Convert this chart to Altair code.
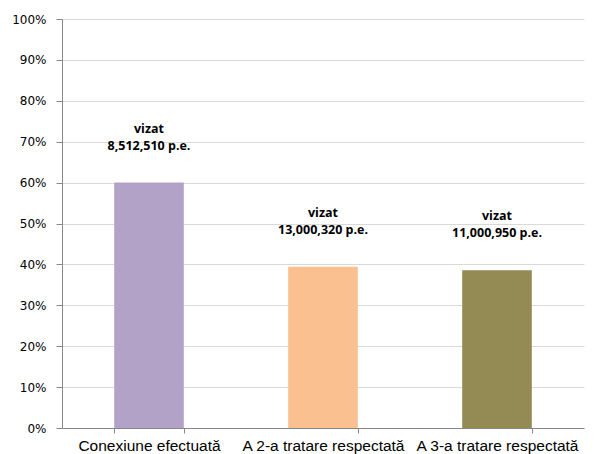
import altair as alt
import pandas as pd

categories = ["Conexiune efectuată", "A 2-a tratare respectată", "A 3-a tratare respectată"]
values = [0.60, 0.394, 0.386]
labels = ["vizat\n8,512,510 p.e.", "vizat\n13,000,320 p.e.", "vizat\n11,000,950 p.e."]
colors = ["#B3A2C7", "#FAC090", "#948A54"]

df = pd.DataFrame({"cat": categories, "val": values, "label": labels})

x = alt.X("cat:N", sort=categories, title=None,
          scale=alt.Scale(paddingInner=0.6, paddingOuter=0.3),
          axis=alt.Axis(labelAngle=0, tickBand="extent", labelFont="Liberation Sans",
                        labelFontSize=15.5, labelColor="#000000", domainColor="#868686",
                        tickColor="#868686", tickSize=5, labelPadding=5, grid=False))
y = alt.Y("val:Q", title=None,
          scale=alt.Scale(domain=[0, 1]),
          axis=alt.Axis(format=".0%", values=[i / 10 for i in range(11)],
                        labelFont="DejaVu Sans", labelFontSize=12, labelColor="#000000",
                        domainColor="#868686", tickColor="#868686", tickSize=6,
                        labelPadding=10, gridColor="#D9D9D9"))

bars = alt.Chart(df).mark_bar().encode(
    x=x, y=y,
    color=alt.Color("cat:N", sort=categories, scale=alt.Scale(domain=categories, range=colors), legend=None),
)
text = alt.Chart(df).mark_text(font="Open Sans", fontWeight="bold", fontSize=12.5,
                               lineBreak="\n", lineHeight=17, baseline="bottom",
                               dy=-47, color="#000000").encode(
    x=alt.X("cat:N", sort=categories), y="val:Q", text="label:N")

chart = alt.layer(bars, text).properties(
    width=522, height=409,
    autosize=alt.AutoSizeParams(type="none"),
    padding={"left": 62, "top": 19, "right": 22, "bottom": 26},
).configure_view(stroke=None)

chart.save("out.html", embed_options={"renderer": "svg", "actions": False})
